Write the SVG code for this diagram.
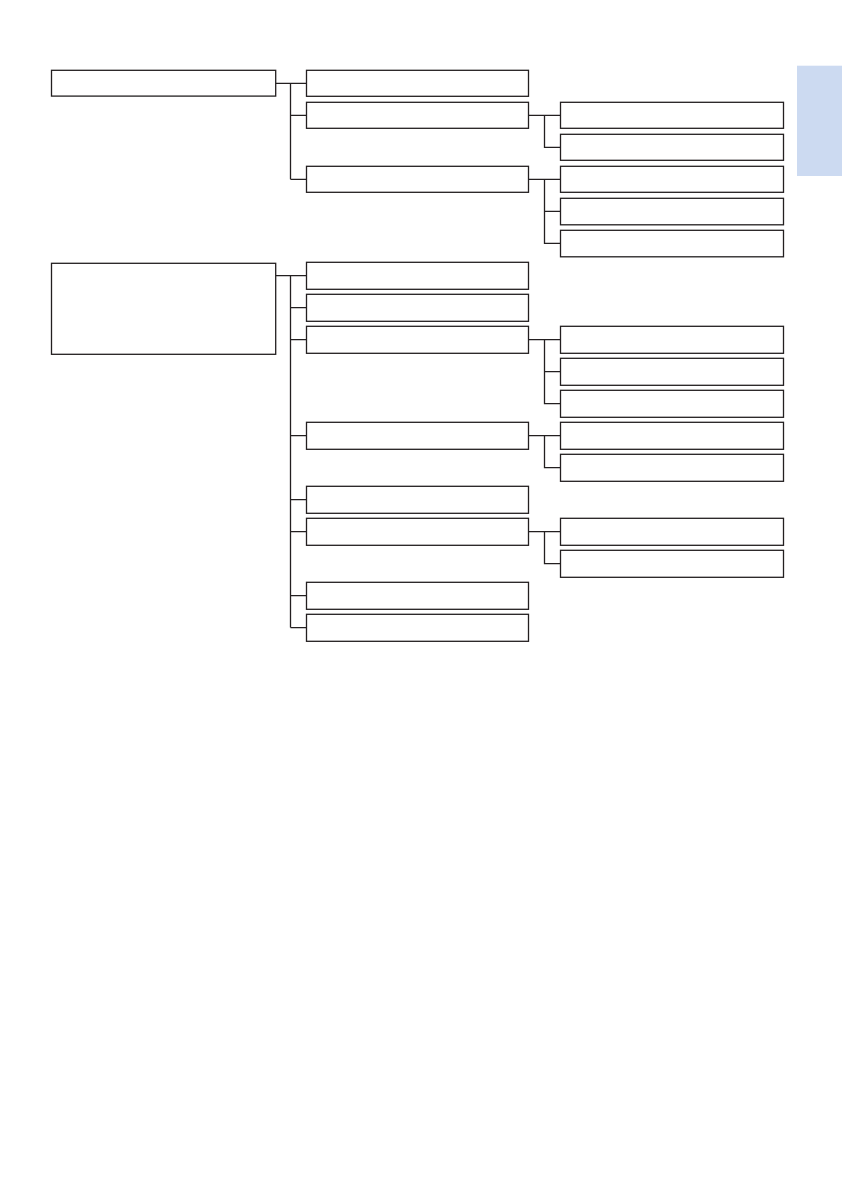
<svg xmlns="http://www.w3.org/2000/svg" width="843" height="1192" viewBox="0 0 843 1192">
<style>
.n{fill:#fff;stroke:#231f20;stroke-width:1.3}
.c{fill:none;stroke:#231f20;stroke-width:1.3}
</style>
<rect width="843" height="1192" fill="#fff"/>
<rect id="tab" x="797" y="65.7" width="45" height="110.3" fill="#ccdaf1"/>
<g id="connectors" class="c">
<path d="M275.7 83.3H290.5M290.5 83.3V179.3M290.5 83.3H306.5M290.5 115.3H306.5M290.5 179.3H306.5"/>
<path d="M528.5 115.3H544.5V147.3H560.5M544.5 115.3H560.5"/>
<path d="M528.5 179.3H544.5V243.3H560.5M544.5 179.3H560.5M544.5 211.3H560.5"/>
<path d="M275.7 275.6H290.5V627.6M290.5 275.6H306.5M290.5 307.6H306.5M290.5 339.6H306.5M290.5 435.6H306.5M290.5 499.6H306.5M290.5 531.6H306.5M290.5 595.6H306.5M290.5 627.6H306.5"/>
<path d="M528.5 339.6H544.5V403.6H560.5M544.5 339.6H560.5M544.5 371.6H560.5"/>
<path d="M528.5 435.6H544.5V467.6H560.5M544.5 435.6H560.5"/>
<path d="M528.5 531.6H544.5V563.6H560.5M544.5 531.6H560.5"/>
</g>
<g id="root1"><rect class="n" x="51.5" y="70.3" width="224.2" height="25.8"/></g>
<g id="root2"><rect class="n" x="51.5" y="263.3" width="224.2" height="91"/></g>
<g id="a1"><rect class="n" x="306.5" y="70.3" width="222" height="26"/></g>
<g id="a2"><rect class="n" x="306.5" y="102.3" width="222" height="26"/></g>
<g id="a3"><rect class="n" x="306.5" y="166.3" width="222" height="26"/></g>
<g id="a2-1"><rect class="n" x="560.5" y="102.3" width="223" height="26"/></g>
<g id="a2-2"><rect class="n" x="560.5" y="134.3" width="223" height="26"/></g>
<g id="a3-1"><rect class="n" x="560.5" y="166.3" width="223" height="26"/></g>
<g id="a3-2"><rect class="n" x="560.5" y="198.3" width="223" height="26.5"/></g>
<g id="a3-3"><rect class="n" x="560.5" y="230.3" width="223" height="26.5"/></g>
<g id="b1"><rect class="n" x="306.5" y="262.3" width="222" height="27"/></g>
<g id="b2"><rect class="n" x="306.5" y="294.3" width="222" height="27"/></g>
<g id="b3"><rect class="n" x="306.5" y="326.3" width="222" height="27"/></g>
<g id="b4"><rect class="n" x="306.5" y="422.3" width="222" height="27"/></g>
<g id="b5"><rect class="n" x="306.5" y="486.3" width="222" height="27"/></g>
<g id="b6"><rect class="n" x="306.5" y="518.3" width="222" height="27"/></g>
<g id="b7"><rect class="n" x="306.5" y="582.3" width="222" height="27"/></g>
<g id="b8"><rect class="n" x="306.5" y="614.3" width="222" height="27"/></g>
<g id="b3-1"><rect class="n" x="560.5" y="326.3" width="223" height="27"/></g>
<g id="b3-2"><rect class="n" x="560.5" y="358.3" width="223" height="27"/></g>
<g id="b3-3"><rect class="n" x="560.5" y="390.3" width="223" height="27"/></g>
<g id="b4-1"><rect class="n" x="560.5" y="422.3" width="223" height="27"/></g>
<g id="b4-2"><rect class="n" x="560.5" y="454.3" width="223" height="27"/></g>
<g id="b6-1"><rect class="n" x="560.5" y="518.3" width="223" height="27"/></g>
<g id="b6-2"><rect class="n" x="560.5" y="550.3" width="223" height="27"/></g>
</svg>
